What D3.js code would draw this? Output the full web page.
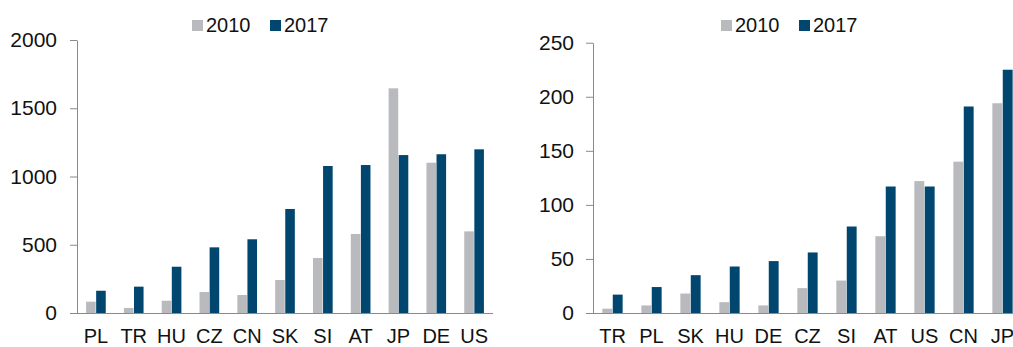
<!DOCTYPE html>
<html>
<head>
<meta charset="utf-8">
<script src="https://cdn.jsdelivr.net/npm/d3@7"></script>
<style>
  body { margin: 0; background: #fff; }
  svg { display: block; font-family: "Liberation Sans", Arial, sans-serif; }
</style>
</head>
<body>
<div id="chart"></div>
<script>
// data
const seriesKeys = ["2010", "2017"];

const leftCategories = ["PL", "TR", "HU", "CZ", "CN", "SK", "SI", "AT", "JP", "DE", "US"];
const left2010 = [83, 37, 90, 154, 132, 242, 403, 579, 1646, 1101, 598];
const left2017 = [163, 193, 339, 481, 540, 762, 1077, 1084, 1157, 1163, 1199];
const leftTicks = [0, 500, 1000, 1500, 2000];

const rightCategories = ["TR", "PL", "SK", "HU", "DE", "CZ", "SI", "AT", "US", "CN", "JP"];
const right2010 = [4, 7, 18, 10, 7, 23, 30, 71, 122, 140, 194];
const right2017 = [17, 24, 35, 43, 48, 56, 80, 117, 117, 191, 225];
const rightTicks = [0, 50, 100, 150, 200, 250];

const width = 1013, height = 347;
const colors = { "2010": "#b9babe", "2017": "#00466f" };
const axisColor = "#8a8a8a";

const svg = d3.select("#chart").append("svg")
  .attr("width", width)
  .attr("height", height);

const drawPanel = (cfg) => {
  const rows = cfg.categories.map((c, i) => ({ cat: c, "2010": cfg.s2010[i], "2017": cfg.s2017[i] }));

  const xScale = d3.scaleBand()
    .domain(cfg.categories)
    .range([cfg.left, cfg.right])
    .paddingInner(0.48)
    .paddingOuter(0.24);

  const xSub = d3.scaleBand()
    .domain(seriesKeys)
    .range([0, xScale.bandwidth()])
    .paddingInner(0.05);

  const yScale = d3.scaleLinear()
    .domain([0, cfg.max])
    .range([cfg.bottom, cfg.top]);

  const g = svg.append("g");

  // bars
  seriesKeys.forEach(key => {
    g.selectAll(`.bar-${key}`)
      .data(rows)
      .join("rect")
        .attr("class", `bar-${key}`)
        .attr("x", d => xScale(d.cat) + xSub(key))
        .attr("y", d => yScale(d[key]))
        .attr("width", xSub.bandwidth())
        .attr("height", d => yScale(0) - yScale(d[key]))
        .attr("fill", colors[key]);
  });

  // y axis
  const yAxis = g.append("g")
    .attr("transform", `translate(${cfg.left}, 0)`)
    .call(d3.axisLeft(yScale)
      .tickValues(cfg.ticks)
      .tickFormat(d3.format("d"))
      .tickSize(7)
      .tickPadding(cfg.tickPad)
      .tickSizeOuter(0));
  yAxis.selectAll("line, path").attr("stroke", axisColor);
  yAxis.selectAll("text")
    .attr("font-size", 21)
    .attr("font-family", "Liberation Sans, Arial, sans-serif")
    .attr("fill", "#111");

  // x axis
  const xAxis = g.append("g")
    .attr("transform", `translate(0, ${cfg.bottom})`)
    .call(d3.axisBottom(xScale)
      .tickSize(0)
      .tickPadding(16)
      .tickSizeOuter(0));
  xAxis.select("path")
    .attr("d", `M${cfg.left - 7},0.5H${cfg.axisEnd}`)
    .attr("stroke", axisColor);
  xAxis.selectAll("text")
    .attr("font-size", 20)
    .attr("font-family", "Liberation Sans, Arial, sans-serif")
    .attr("fill", "#111");

  // legend
  const legend = g.append("g");
  seriesKeys.forEach((key, i) => {
    const lx = cfg.legendX[i];
    legend.append("rect")
      .attr("x", lx)
      .attr("y", 20)
      .attr("width", 11)
      .attr("height", 11)
      .attr("fill", colors[key]);
    legend.append("text")
      .attr("x", lx + 14)
      .attr("y", 32)
      .attr("font-size", 20)
      .attr("fill", "#111")
      .text(key);
  });
};

drawPanel({
  categories: leftCategories, s2010: left2010, s2017: left2017,
  ticks: leftTicks, max: 2000,
  left: 77, right: 493, axisEnd: 493, top: 40, bottom: 313,
  tickPad: 13, legendX: [192, 270]
});

drawPanel({
  categories: rightCategories, s2010: right2010, s2017: right2017,
  ticks: rightTicks, max: 250,
  left: 593, right: 1022, axisEnd: 1022, top: 42.7, bottom: 313,
  tickPad: 12, legendX: [721, 799]
});
</script>
</body>
</html>
